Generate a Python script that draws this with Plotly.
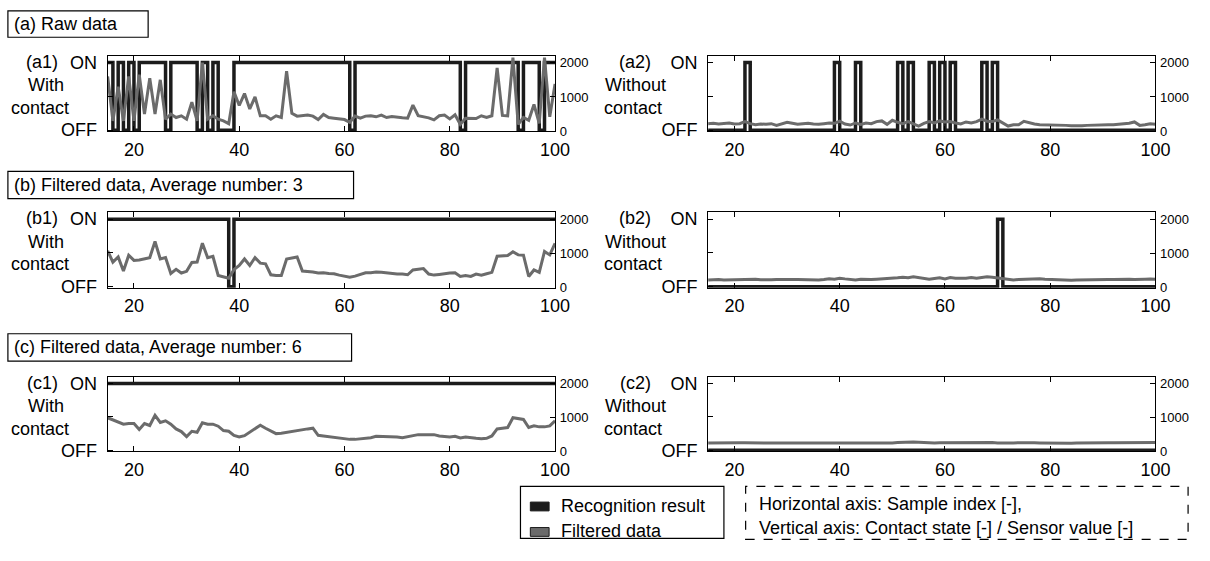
import plotly.graph_objects as go

W, H = 1210, 561

samples = list(range(15, 101))

# ---------------- recognition results (0 = OFF, 1 = ON) ----------------
rec_a1 = [1,0,1,0,1,0,1,1,1,1, 1,0,1,1,1,1,1,0,1,0, 1,0,0,0,1,1,1,1,1,1,
          1,1,1,1,1,1,1,1,1,1, 1,1,1,1,1,1,0,1,1,1, 1,1,1,1,1,1,1,1,1,1,
          1,1,1,1,1,1,1,0,1,1, 1,1,1,1,1,1,1,1,0,1, 1,1,0,1,1,1]
rec_a2 = [0,0,0,0,0,0,0,1,0,0, 0,0,0,0,0,0,0,0,0,0, 0,0,0,0,1,0,0,0,1,0,
          0,0,0,0,0,0,1,0,1,0, 0,0,1,0,1,0,1,0,0,0, 0,0,1,0,1,0,0,0,0,0,
          0,0,0,0,0,0,0,0,0,0, 0,0,0,0,0,0,0,0,0,0, 0,0,0,0,0,0]
rec_b1 = [1,1,1,1,1,1,1,1,1,1, 1,1,1,1,1,1,1,1,1,1, 1,1,1,0,1,1,1,1,1,1,
          1,1,1,1,1,1,1,1,1,1, 1,1,1,1,1,1,1,1,1,1, 1,1,1,1,1,1,1,1,1,1,
          1,1,1,1,1,1,1,1,1,1, 1,1,1,1,1,1,1,1,1,1, 1,1,1,1,1,1]
rec_b2 = [0,0,0,0,0,0,0,0,0,0, 0,0,0,0,0,0,0,0,0,0, 0,0,0,0,0,0,0,0,0,0,
          0,0,0,0,0,0,0,0,0,0, 0,0,0,0,0,0,0,0,0,0, 0,0,0,0,0,1,0,0,0,0,
          0,0,0,0,0,0,0,0,0,0, 0,0,0,0,0,0,0,0,0,0, 0,0,0,0,0,0]
rec_c1 = [1] * len(samples)
rec_c2 = [0] * len(samples)

# ---------------- filtered sensor values ----------------
val_a1 = [1600, 300, 1300, 300, 1600, 300, 1650, 500, 1550, 500,
          1500, 350, 500, 400, 450, 350, 850, 300, 2000, 350,
          450, 350, 300, 220, 1150, 750, 1100, 650, 1000, 450,
          450, 350, 450, 400, 1750, 520, 440, 460, 470, 440,
          340, 490, 400, 380, 370, 340, 260, 440, 380, 440,
          450, 420, 470, 400, 430, 400, 390, 380, 760, 450,
          420, 390, 330, 450, 470, 360, 480, 200, 380, 370,
          370, 450, 400, 450, 1850, 460, 450, 2150, 200, 400,
          320, 780, 230, 2150, 420, 1380]
val_a2 = [220, 230, 210, 220, 240, 210, 220, 280, 220, 190,
          210, 200, 220, 170, 210, 260, 230, 200, 220, 230,
          210, 200, 220, 240, 230, 290, 210, 180, 240, 200,
          240, 220, 280, 300, 200, 320, 260, 220, 280, 220,
          150, 230, 280, 240, 300, 270, 280, 240, 210, 270,
          240, 280, 350, 290, 280, 330, 240, 150, 190, 190,
          290, 240, 210, 190, 190, 190, 180, 170, 170, 160,
          150, 160, 170, 180, 190, 180, 190, 190, 200, 200,
          230, 270, 170, 190, 220, 200]
val_b1 = [1080, 750, 900, 490, 950, 800, 810, 840, 880, 1350,
          840, 880, 420, 540, 430, 480, 740, 750, 1300, 880,
          920, 360, 320, 280, 530, 650, 840, 650, 880, 720,
          700, 380, 360, 360, 840, 870, 900, 490, 480, 460,
          430, 440, 420, 410, 370, 330, 310, 340, 380, 440,
          440, 460, 450, 430, 420, 400, 400, 380, 520, 550,
          560, 400, 370, 390, 420, 430, 440, 330, 360, 330,
          400, 370, 410, 450, 920, 920, 940, 1050, 960, 950,
          330, 520, 450, 1060, 960, 1300]
val_b2 = [230, 240, 240, 230, 235, 240, 235, 245, 240, 250,
          235, 230, 235, 245, 240, 230, 240, 245, 240, 230,
          220, 230, 240, 260, 250, 280, 260, 240, 230, 250,
          240, 240, 250, 260, 250, 270, 290, 310, 290, 320,
          290, 260, 250, 270, 290, 260, 300, 280, 270, 280,
          300, 280, 300, 320, 310, 290, 280, 260, 230, 240,
          250, 260, 270, 260, 250, 240, 230, 225, 220, 220,
          230, 235, 240, 250, 255, 250, 245, 240, 250, 255,
          250, 245, 240, 250, 255, 250]
val_c1 = [990, 930, 850, 800, 820, 820, 640, 820, 760, 1060,
          850, 900, 800, 660, 580, 430, 590, 560, 840, 800,
          800, 740, 610, 590, 470, 420, 460, 560, 650, 770,
          680, 600, 520, 530, 560, 590, 620, 650, 660, 680,
          470, 450, 430, 410, 390, 360, 350, 350, 360, 380,
          400, 440, 440, 440, 430, 420, 400, 430, 480, 490,
          490, 480, 490, 450, 440, 420, 440, 390, 420, 390,
          380, 370, 380, 450, 660, 680, 700, 990, 960, 940,
          700, 750, 720, 720, 750, 900]
val_c2 = [240, 245, 245, 250, 250, 250, 250, 250, 245, 245,
          245, 245, 240, 240, 240, 240, 235, 235, 230, 230,
          230, 225, 225, 230, 235, 240, 240, 240, 240, 240,
          235, 235, 235, 240, 240, 245, 255, 265, 270, 270,
          265, 255, 245, 245, 250, 250, 255, 255, 255, 260,
          265, 270, 270, 265, 255, 245, 240, 240, 245, 250,
          255, 255, 250, 245, 240, 235, 230, 230, 230, 235,
          240, 245, 245, 245, 250, 250, 250, 250, 250, 250,
          250, 250, 250, 250, 255, 255]

x_ticks = [20, 40, 60, 80, 100]
state_ticks = [0, 0.5, 1]
state_labels = ["OFF", "", "ON"]
sensor_ticks = [0, 1000, 2000]

section_titles = ["(a) Raw data", "(b) Filtered data, Average number: 3",
                  "(c) Filtered data, Average number: 6"]
legend_labels = ["Recognition result", "Filtered data"]
note_lines = ["Horizontal axis: Sample index [-],",
              "Vertical axis: Contact state [-] / Sensor value [-]"]

BLACK = "#1c1c1c"
GRAY = "#6b6b6b"
FONT = "Liberation Sans, Arial, Helvetica, sans-serif"
FS = 18

cols = [(109, 562), (717, 1170)]
rows = [(54, 131), (214, 291), (382, 458)]

panels = [
    dict(tag="(a1)", lines=("With", "contact"), row=0, col=0, rec=rec_a1, val=val_a1),
    dict(tag="(a2)", lines=("Without", "contact"), row=0, col=1, rec=rec_a2, val=val_a2),
    dict(tag="(b1)", lines=("With", "contact"), row=1, col=0, rec=rec_b1, val=val_b1),
    dict(tag="(b2)", lines=("Without", "contact"), row=1, col=1, rec=rec_b2, val=val_b2),
    dict(tag="(c1)", lines=("With", "contact"), row=2, col=0, rec=rec_c1, val=val_c1),
    dict(tag="(c2)", lines=("Without", "contact"), row=2, col=1, rec=rec_c2, val=val_c2),
]

fig = go.Figure()
layout = {}
annotations = []
shapes = []

def fx(p):
    return p / W

def fy(p):
    return 1 - p / H

for i, p in enumerate(panels):
    n = i + 1
    xa = "x" if n == 1 else f"x{n}"
    yl_n, yr_n = 2 * i + 1, 2 * i + 2
    yl = "y" if yl_n == 1 else f"y{yl_n}"
    yr = f"y{yr_n}"
    x0, x1 = cols[p["col"]]
    top, bottom = rows[p["row"]]

    fig.add_trace(go.Scatter(x=samples, y=p["rec"], xaxis=xa, yaxis=yl, mode="lines",
                             line=dict(shape="hv", color=BLACK, width=3.5),
                             showlegend=False, hoverinfo="skip"))
    fig.add_trace(go.Scatter(x=samples, y=p["val"], xaxis=xa, yaxis=yr, mode="lines",
                             line=dict(color=GRAY, width=3),
                             showlegend=False, hoverinfo="skip"))

    layout["xaxis" + ("" if n == 1 else str(n))] = dict(
        domain=[fx(x0), fx(x1)], anchor=yl, range=[15, 100], tickvals=x_ticks,
        ticks="inside", ticklen=5, tickcolor="black", mirror="ticks", showline=True,
        linecolor="black", linewidth=1, showgrid=False, zeroline=False,
        tickfont=dict(family=FONT, size=FS, color="black"), ticklabelstandoff=2)
    layout["yaxis" + ("" if yl_n == 1 else str(yl_n))] = dict(
        domain=[fy(bottom), fy(top)], anchor=xa, range=[-0.015, 1.1],
        tickvals=state_ticks, ticktext=state_labels, ticks="inside", ticklen=5,
        tickcolor="black", showline=True, linecolor="black", linewidth=1,
        showgrid=False, zeroline=False, ticklabelstandoff=6,
        tickfont=dict(family=FONT, size=FS, color="black"))
    layout["yaxis" + str(yr_n)] = dict(
        overlaying=yl, side="right", anchor=xa, range=[0, 2200],
        tickvals=sensor_ticks, ticks="inside", ticklen=5, tickcolor="black",
        showline=True, linecolor="black", linewidth=1, showgrid=False,
        zeroline=False, ticklabelstandoff=1,
        tickfont=dict(family=FONT, size=13, color="black"))

    cx = 43 if p["col"] == 0 else 643
    for txt, yy, xx in ((p["tag"], top + 6, cx), (p["lines"][0], top + 30, cx + (4 if p["col"] == 0 else 0)),
                        (p["lines"][1], top + 53, cx - 2)):
        annotations.append(dict(text=txt, x=fx(xx), y=fy(yy), xref="paper", yref="paper",
                                xanchor="center", yanchor="middle", showarrow=False,
                                font=dict(family=FONT, size=FS, color="black")))

# section title boxes
title_boxes = [(8, 150, 8, 35), (8, 358, 172, 200), (8, 356, 338, 366)]
for t, (bx0, bx1, by0, by1) in zip(section_titles, title_boxes):
    shapes.append(dict(type="rect", xref="paper", yref="paper", x0=fx(bx0), x1=fx(bx1),
                       y0=fy(by1), y1=fy(by0), line=dict(color="black", width=1.2)))
    annotations.append(dict(text=t, x=fx(bx0 + 4), y=fy((by0 + by1) / 2), xref="paper", yref="paper",
                            xanchor="left", yanchor="middle", showarrow=False,
                            font=dict(family=FONT, size=FS, color="black")))

# legend box
shapes.append(dict(type="rect", xref="paper", yref="paper", x0=fx(527), x1=fx(733),
                   y0=fy(547), y1=fy(494), line=dict(color="black", width=1.2)))
for (lbl, col, yy) in ((legend_labels[0], BLACK, 514), (legend_labels[1], GRAY, 540)):
    shapes.append(dict(type="rect", xref="paper", yref="paper", x0=fx(537), x1=fx(556),
                       y0=fy(yy + 5), y1=fy(yy - 4), fillcolor=col,
                       line=dict(color=BLACK, width=1)))
    annotations.append(dict(text=lbl, x=fx(566), y=fy(yy), xref="paper", yref="paper",
                            xanchor="left", yanchor="middle", showarrow=False,
                            font=dict(family=FONT, size=FS, color="black")))

# dashed note box
shapes.append(dict(type="rect", xref="paper", yref="paper", x0=fx(755), x1=fx(1203),
                   y0=fy(548), y1=fy(494), line=dict(color="black", width=1.2, dash="dash")))
for txt, yy in zip(note_lines, (512, 536)):
    annotations.append(dict(text=txt, x=fx(767), y=fy(yy), xref="paper", yref="paper",
                            xanchor="left", yanchor="middle", showarrow=False,
                            font=dict(family=FONT, size=FS, color="black")))

fig.update_layout(**layout)
fig.update_layout(width=W, height=H, margin=dict(l=0, r=0, t=0, b=0),
                  paper_bgcolor="white", plot_bgcolor="white",
                  annotations=annotations, shapes=shapes, showlegend=False,
                  font=dict(family=FONT, size=FS, color="black"))

fig.write_html("out.html")
